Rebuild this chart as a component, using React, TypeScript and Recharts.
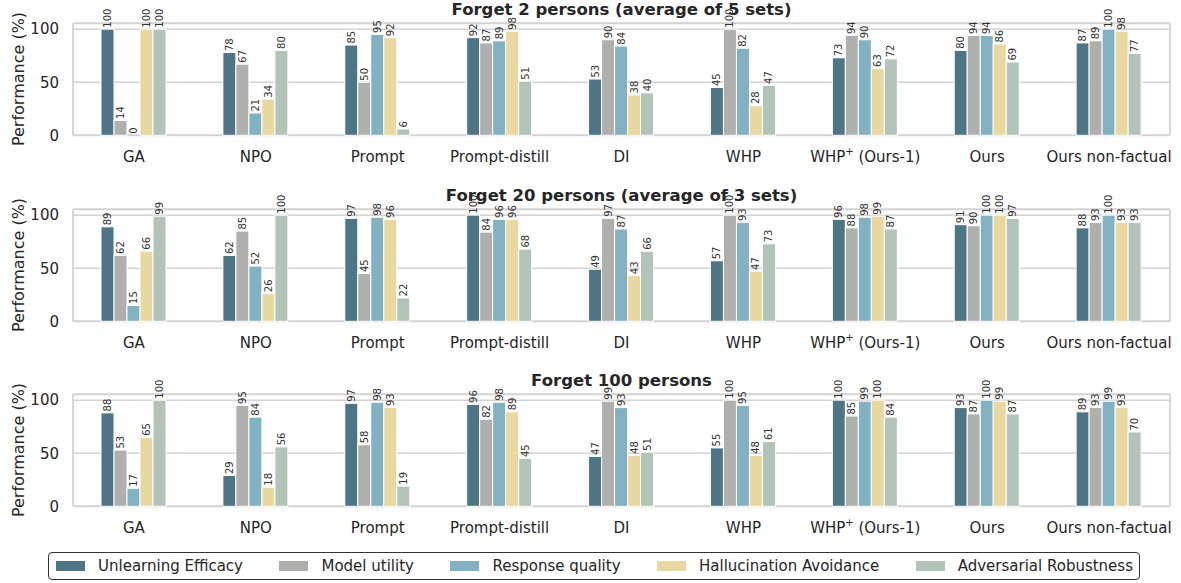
import { BarChart, Bar, XAxis, YAxis, CartesianGrid } from 'recharts';

const categories = ['GA', 'NPO', 'Prompt', 'Prompt-distill', 'DI', 'WHP', 'WHP⁺ (Ours-1)', 'Ours', 'Ours non-factual'];
const yTicks = [0, 50, 100];

// Forget 2 persons (average of 5 sets)
const efficacy2 = [100, 78, 85, 92, 53, 45, 73, 80, 87];
const utility2 = [14, 67, 50, 87, 90, 100, 94, 94, 89];
const quality2 = [0, 21, 95, 89, 84, 82, 90, 94, 100];
const halluc2 = [100, 34, 92, 98, 38, 28, 63, 86, 98];
const robust2 = [100, 80, 6, 51, 40, 47, 72, 69, 77];

// Forget 20 persons (average of 3 sets)
const efficacy20 = [89, 62, 97, 100, 49, 57, 96, 91, 88];
const utility20 = [62, 85, 45, 84, 97, 100, 88, 90, 93];
const quality20 = [15, 52, 98, 96, 87, 93, 98, 100, 100];
const halluc20 = [66, 26, 96, 96, 43, 47, 99, 100, 93];
const robust20 = [99, 100, 22, 68, 66, 73, 87, 97, 93];

// Forget 100 persons
const efficacy100 = [88, 29, 97, 96, 47, 55, 100, 93, 89];
const utility100 = [53, 95, 58, 82, 99, 100, 85, 87, 93];
const quality100 = [17, 84, 98, 98, 93, 95, 99, 100, 99];
const halluc100 = [65, 18, 93, 89, 48, 48, 100, 99, 93];
const robust100 = [100, 56, 19, 45, 51, 61, 84, 87, 70];

const series = [
  { key: 'efficacy', name: 'Unlearning Efficacy', color: '#4e7585' },
  { key: 'utility', name: 'Model utility', color: '#afafad' },
  { key: 'quality', name: 'Response quality', color: '#82b2c2' },
  { key: 'halluc', name: 'Hallucination Avoidance', color: '#e9d89f' },
  { key: 'robust', name: 'Adversarial Robustness', color: '#b1c4b7' },
];

const buildRows = (cols: number[][]) =>
  categories.map((name, i) => ({
    name,
    efficacy: cols[0][i],
    utility: cols[1][i],
    quality: cols[2][i],
    halluc: cols[3][i],
    robust: cols[4][i],
  }));

const panels = [
  { title: 'Forget 2 persons (average of 5 sets)', rows: buildRows([efficacy2, utility2, quality2, halluc2, robust2]) },
  { title: 'Forget 20 persons (average of 3 sets)', rows: buildRows([efficacy20, utility20, quality20, halluc20, robust20]) },
  { title: 'Forget 100 persons', rows: buildRows([efficacy100, utility100, quality100, halluc100, robust100]) },
];

const FONT = '"DejaVu Sans", sans-serif';
const TEXT = '#262626';
const GRID = '#d3d3d3';

// bar rect plus its rotated value label (also drawn for zero-height bars)
const labelledBar = (field: string) => (props: any) => {
  const { x, y, width, height, fill, payload } = props;
  const bx = Number(x);
  const by = Number(y);
  const w = Number(width);
  const h = Math.max(0, Number(height) || 0);
  const cx = bx + w / 2;
  const ty = by - 1.5;
  return (
    <g>
      {h > 0 && <rect x={bx} y={by} width={w} height={h} fill={fill} stroke="#fff" strokeWidth={1} />}
      <text x={cx} y={ty} transform={`rotate(-90 ${cx} ${ty})`} textAnchor="start" dominantBaseline="central"
        fontSize={10} fill="#333" fontFamily={FONT}>
        {payload[field]}
      </text>
    </g>
  );
};

const CategoryTick = (props: any) => {
  const { x, y, payload } = props;
  const parts = String(payload.value).split('⁺');
  return (
    <text x={x} y={y + 13.5} textAnchor="middle" dominantBaseline="central" fontSize={15} fill={TEXT} fontFamily={FONT}>
      {parts.length > 1 ? (
        <>
          <tspan>{parts[0]}</tspan>
          <tspan dy={-6} fontSize={10}>+</tspan>
          <tspan dy={6}>{parts[1]}</tspan>
        </>
      ) : (
        parts[0]
      )}
    </text>
  );
};

function Panel({ title, rows, top }: { title: string; rows: any[]; top: number }) {
  return (
    <div style={{ position: 'absolute', left: 0, top, width: 1181, height: 185 }}>
      <div style={{ position: 'absolute', left: 73, width: 1097, top: 0, textAlign: 'center', fontWeight: 'bold',
        fontSize: 16.5, lineHeight: '20px', color: TEXT, zIndex: 2 }}>
        {title}
      </div>
      <div style={{ position: 'absolute', left: 18, top: 79.3, transform: 'translate(-50%, -50%) rotate(-90deg)',
        whiteSpace: 'nowrap', fontSize: 16, color: TEXT }}>
        Performance (%)
      </div>
      <BarChart width={1181} height={185} data={rows} margin={{ top: 23.3, right: 11, bottom: 19.7, left: 0 }}
        barGap={0} barSize={13}>
        <CartesianGrid vertical={false} stroke={GRID} strokeWidth={1.5} />
        <CartesianGrid stroke={GRID} strokeWidth={1.8}
          horizontalCoordinatesGenerator={({ offset }: any) => [offset.top, offset.top + offset.height]}
          verticalCoordinatesGenerator={({ offset }: any) => [offset.left, offset.left + offset.width]} />
        <XAxis dataKey="name" interval={0} tickLine={false} axisLine={false} height={30} tick={<CategoryTick />} />
        <YAxis width={73} domain={[0, 105.5]} ticks={yTicks} tickLine={false} axisLine={false} tickMargin={8}
          tick={{ fontSize: 15, fill: TEXT, fontFamily: FONT }} />
        {series.map((s) => (
          <Bar key={s.key} dataKey={s.key} name={s.name} fill={s.color} shape={labelledBar(s.key)}
            isAnimationActive={false} />
        ))}
      </BarChart>
    </div>
  );
}

export default function App() {
  return (
    <div style={{ position: 'absolute', left: 0, top: 0, width: 1181, height: 583, background: '#fff', fontFamily: FONT }}>
      {panels.map((p, i) => (
        <Panel key={p.title} title={p.title} rows={p.rows} top={i * 185.5} />
      ))}
      <div style={{ position: 'absolute', left: 48, top: 552, width: 1092, height: 28, boxSizing: 'border-box',
        border: '1.2px solid #333', borderRadius: 4, display: 'flex', alignItems: 'center',
        justifyContent: 'space-between', padding: '0 6px 0 7px', fontSize: 15, color: TEXT }}>
        {series.map((s) => (
          <div key={s.key} style={{ display: 'flex', alignItems: 'center' }}>
            <span style={{ display: 'inline-block', width: 29, height: 10, background: s.color, marginRight: 13 }} />
            <span>{s.name}</span>
          </div>
        ))}
      </div>
    </div>
  );
}
